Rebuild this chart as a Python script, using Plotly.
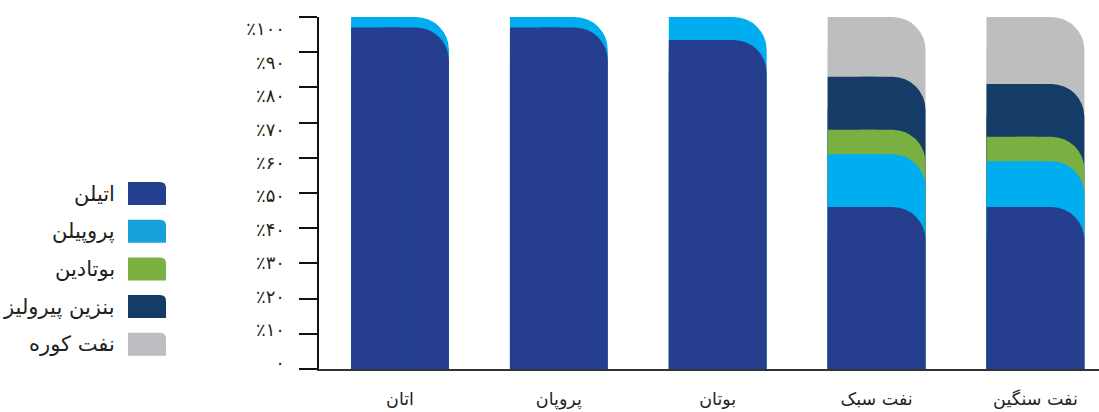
import plotly.graph_objects as go

# ---------------- data ----------------
categories = ["اتان", "پروپان", "بوتان", "نفت سبک", "نفت سنگین"]
series_names = ["اتیلن", "پروپیلن", "بوتادین", "بنزین پیرولیز", "نفت کوره"]
ethylene = [97, 97, 93.5, 46, 46]
propylene = [3, 3, 6.5, 15, 13]
butadiene = [0, 0, 0, 7, 7]
pyrolysis_gasoline = [0, 0, 0, 15, 15]
fuel_oil = [0, 0, 0, 17, 19]
y_tick_values = [0, 10, 20, 30, 40, 50, 60, 70, 80, 90, 100]
y_tick_labels = ["۰", "٪۱۰", "٪۲۰", "٪۳۰", "٪۴۰", "٪۵۰", "٪۶۰", "٪۷۰", "٪۸۰", "٪۹۰", "٪۱۰۰"]

# ---------------- styles ----------------
bar_colors = ["#253F8E", "#00AEEF", "#7AB042", "#143C66", "#BCBEC0"]
legend_colors = ["#253F8F", "#16A1DB", "#7BB043", "#143C65", "#BDBEC1"]
TEXT = "#231F20"
FONT = "DejaVu Sans"

W, H = 1099, 412
ML, MR, MT, MB = 319, 0, 17, 43
PW, PH = W - ML - MR, H - MT - MB
XRANGE = [-0.51, 4.40]

def px(x):
    return (x - ML) / PW

def py(y):
    return (H - MB - y) / PH

series = [ethylene, propylene, butadiene, pyrolysis_gasoline, fuel_oil]

# cumulative tops
cum = []
running = [0] * len(categories)
for vals in series:
    running = [r + v for r, v in zip(running, vals)]
    cum.append([r if v > 0 else None for r, v in zip(running, vals)])

BW = 0.616
fig = go.Figure()
layout_axes = {}
# draw the top-most cumulative first (base axis), lower segments on overlaying axes above
order = list(reversed(range(len(series))))
for n, i in enumerate(order):
    xa = "x" if n == 0 else f"x{n + 1}"
    fig.add_trace(go.Bar(
        x=categories, y=cum[i], width=BW, offset=-BW / 2, xaxis=xa, yaxis="y",
        marker=dict(color=bar_colors[i], line=dict(width=0), cornerradius=33),
        name=series_names[i], showlegend=False, hoverinfo="skip"))
    fig.add_trace(go.Bar(
        x=categories, y=cum[i], width=BW / 2, offset=-BW / 2, xaxis=xa, yaxis="y",
        marker=dict(color=bar_colors[i], line=dict(width=0)),
        showlegend=False, hoverinfo="skip"))
    if n > 0:
        layout_axes[f"xaxis{n + 1}"] = dict(overlaying="x", range=XRANGE, visible=False,
                                            type="category",
                                            categoryorder="array", categoryarray=categories)

# invisible helper trace carrying the tick-label axis
fig.add_trace(go.Scatter(x=[categories[0]], y=[None], yaxis="y2", xaxis="x",
                         showlegend=False, hoverinfo="skip"))

# custom legend (text on the left, rounded swatch on the right)
shapes = []
annotations = []
sw_x0, sw_x1 = 128, 166
sw_h = 23
r = 6
for k, name in enumerate(series_names):
    top = 182 + k * 37.7
    bot = top + sw_h
    path = (f"M {px(sw_x0)},{py(bot)} L {px(sw_x0)},{py(top)} "
            f"L {px(sw_x1 - r)},{py(top)} Q {px(sw_x1)},{py(top)} {px(sw_x1)},{py(top + r)} "
            f"L {px(sw_x1)},{py(bot)} Z")
    shapes.append(dict(type="path", xref="paper", yref="paper", path=path,
                       fillcolor=legend_colors[k], line=dict(width=0)))
    annotations.append(dict(x=px(117), y=py((top + bot) / 2), xref="paper", yref="paper",
                            text=name, showarrow=False, xanchor="right", yanchor="middle",
                            font=dict(family=FONT, size=21, color=TEXT)))

fig.update_layout(
    width=W, height=H,
    margin=dict(l=ML, r=MR, t=MT, b=MB, pad=0),
    barmode="overlay",
    paper_bgcolor="white", plot_bgcolor="white",
    showlegend=False,
    shapes=shapes, annotations=annotations,
    font=dict(family=FONT, color=TEXT),
    xaxis=dict(range=XRANGE, showgrid=False, zeroline=False, type="category",
               categoryorder="array", categoryarray=categories,
               showline=True, linecolor="#333333", linewidth=2, ticks="",
               tickfont=dict(family=FONT, size=17.5, color=TEXT), ticklabelstandoff=13),
    yaxis=dict(range=[0, 100], tickvals=y_tick_values, showticklabels=False,
               showgrid=False, zeroline=False, showline=True, linecolor="#111111",
               linewidth=1.5, ticks="outside", ticklen=18, tickcolor="#111111",
               tickwidth=1.5),
    yaxis2=dict(overlaying="y", side="left", range=[-1.8, 103.6],
                tickvals=y_tick_values, ticktext=y_tick_labels,
                showgrid=False, zeroline=False, showline=False, ticks="",
                ticklabelstandoff=33,
                tickfont=dict(family=FONT, size=18, color=TEXT)),
    **layout_axes,
)

fig.write_html("out.html")
